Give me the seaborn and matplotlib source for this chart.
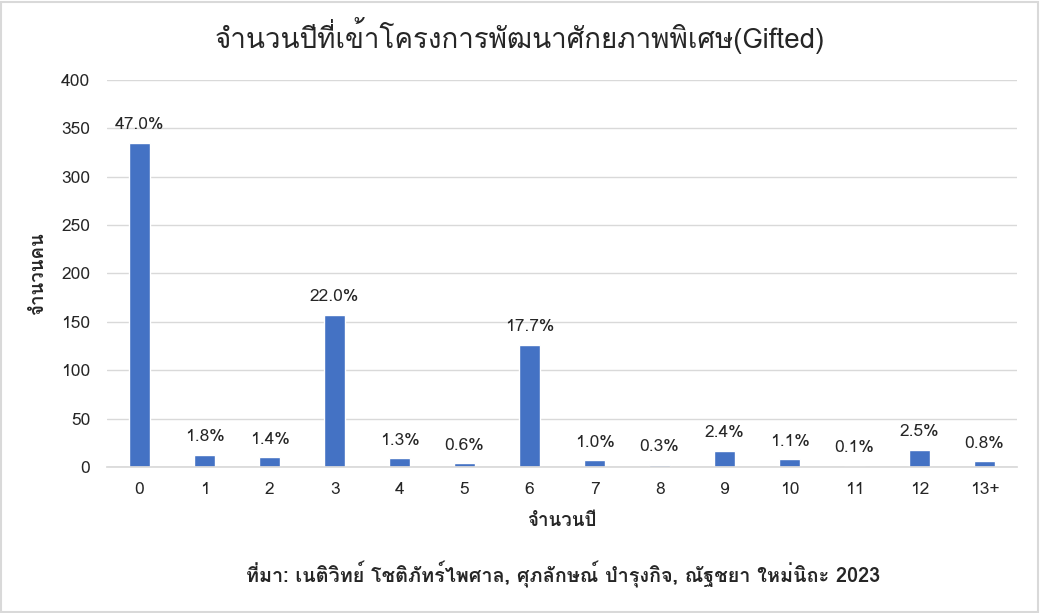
import matplotlib
matplotlib.use("Agg")
import matplotlib.pyplot as plt
import seaborn as sns
import pandas as pd

categories = ["0", "1", "2", "3", "4", "5", "6", "7", "8", "9", "10", "11", "12", "13+"]
counts = [335, 13, 10, 157, 9, 4, 126, 7, 2, 17, 8, 1, 18, 6]
pct_labels = ["47.0%", "1.8%", "1.4%", "22.0%", "1.3%", "0.6%", "17.7%", "1.0%",
              "0.3%", "2.4%", "1.1%", "0.1%", "2.5%", "0.8%"]
y_ticks = [0, 50, 100, 150, 200, 250, 300, 350, 400]

title = "จำนวนปีที่เข้าโครงการพัฒนาศักยภาพพิเศษ(Gifted)"
x_label = "จำนวนปี"
y_label = "จำนวนคน"
source = "ที่มา: เนติวิทย์ โชติภัทร์ไพศาล, ศุภลักษณ์ บำรุงกิจ, ณัฐชยา ใหม่นิถะ 2023"

sns.set_theme(style="white")
plt.rcParams["font.family"] = ["Loma", "Noto Sans Thai", "DejaVu Sans"]

df = pd.DataFrame({"cat": categories, "count": counts})

fig = plt.figure(figsize=(10.4, 6.13), dpi=100)
ax = fig.add_axes([0.103, 0.238, 0.875, 0.632])
sns.barplot(data=df, x="cat", y="count", color="#4472C4", width=0.33, ax=ax, saturation=1)

ax.set_ylim(0, 400)
ax.set_yticks(y_ticks)
ax.yaxis.grid(True, color="#D9D9D9", linewidth=1)
ax.set_axisbelow(True)
for s in ["top", "right", "left"]:
    ax.spines[s].set_visible(False)
ax.spines["bottom"].set_color("#D9D9D9")
ax.tick_params(axis="both", colors="#262626", labelsize=12.5, length=0)
ax.tick_params(axis="x", pad=11)
ax.tick_params(axis="y", pad=12)

for i, (c, lab) in enumerate(zip(counts, pct_labels)):
    ax.annotate(lab, (i, c), xytext=(0, 7), textcoords="offset points",
                ha="center", va="bottom", fontsize=12.5, color="#262626")

ax.set_xlabel(x_label, fontsize=13.5, fontweight="bold", color="#262626", labelpad=10)
ax.set_ylabel(y_label, fontsize=13.5, fontweight="bold", color="#262626", labelpad=10)
fig.suptitle(title, fontsize=20, color="#262626", y=0.972)
fig.text(0.541, 0.062, source, ha="center", va="center", fontsize=14.3,
         fontweight="bold", color="#262626")

fig.patches.append(plt.Rectangle((0.001, 0.002), 0.997, 0.995, transform=fig.transFigure,
                                 fill=False, edgecolor="#D9D9D9", linewidth=1.5))
fig.savefig("out.png", dpi=100, facecolor="white")
